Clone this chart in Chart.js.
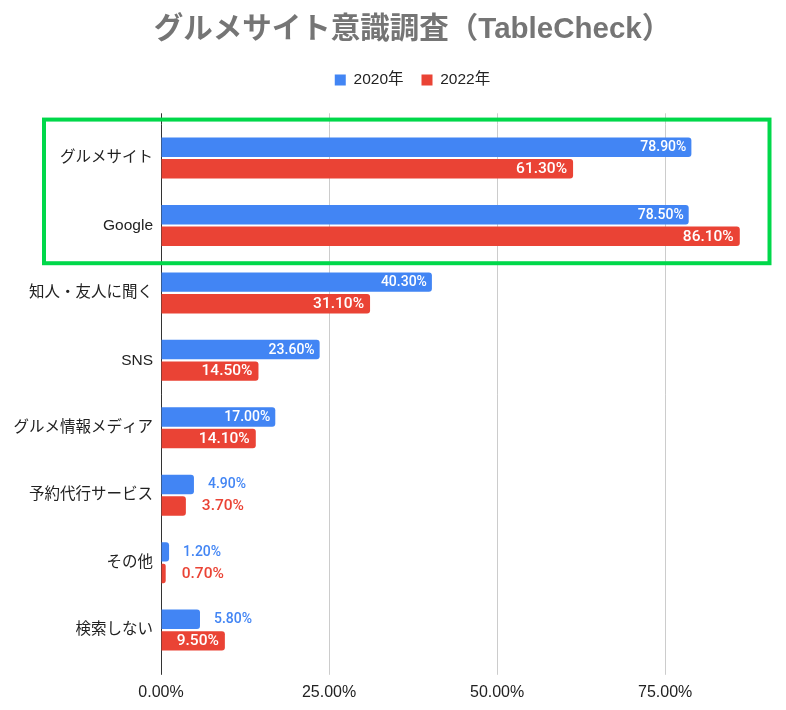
<!DOCTYPE html>
<html>
<head>
<meta charset="utf-8">
<script src="https://cdn.jsdelivr.net/npm/chart.js@4"></script>
<style>
html,body{margin:0;padding:0;background:#ffffff;}
#wrap{width:786px;height:710px;}
</style>
</head>
<body>
<div id="wrap"><canvas id="c" width="786" height="710"></canvas></div>
<script>
// ---- data ----
const categories = ['グルメサイト', 'Google', '知人・友人に聞く', 'SNS', 'グルメ情報メディア', '予約代行サービス', 'その他', '検索しない'];
const values2020 = [78.9, 78.5, 40.3, 23.6, 17.0, 4.9, 1.2, 5.8];
const values2022 = [61.3, 86.1, 31.1, 14.5, 14.1, 3.7, 0.7, 9.5];
const seriesNames = ['2020年', '2022年'];
const xTickValues = [0, 25, 50, 75];
const xMax = 90;
const highlightedCategories = [0, 1];
const titleText = 'グルメサイト意識調査（TableCheck）';

// ---- styles ----
const BLUE = '#4285F4';
const RED = '#EA4335';
const SANS = '"Liberation Sans", "Noto Sans CJK JP", sans-serif';
const LABEL_FONT = 'Roboto, "Noto Sans CJK JP", sans-serif';
const labelStyles = [
  {size: 14, weight: 500, color: BLUE, gapOut: 14, padIn: 5},
  {size: 15.5, weight: 500, color: RED, gapOut: 16, padIn: 6}
];

const gridExtend = 11;

const gridTopExtension = {
  id: 'gridTopExtension',
  beforeDatasetsDraw(chart) {
    const {ctx, chartArea} = chart;
    const xs = chart.scales.x;
    ctx.save();
    xs.ticks.forEach(t => {
      const px = Math.round(xs.getPixelForValue(t.value)) + 0.5;
      ctx.strokeStyle = t.value === 0 ? '#333333' : '#cccccc';
      ctx.lineWidth = 1;
      ctx.beginPath();
      ctx.moveTo(px, chartArea.top - gridExtend);
      ctx.lineTo(px, chartArea.top);
      ctx.stroke();
    });
    ctx.restore();
  }
};

const valueLabels = {
  id: 'valueLabels',
  afterDatasetsDraw(chart) {
    const {ctx} = chart;
    ctx.save();
    chart.data.datasets.forEach((ds, di) => {
      const meta = chart.getDatasetMeta(di);
      const st = labelStyles[di];
      ctx.font = st.weight + ' ' + st.size + 'px ' + LABEL_FONT;
      ctx.textBaseline = 'middle';
      meta.data.forEach((bar, i) => {
        const v = ds.data[i];
        const txt = v.toFixed(2) + '%';
        const w = ctx.measureText(txt).width;
        const barW = bar.x - bar.base;
        if (w + 2 * st.padIn + 2 < barW) {
          ctx.fillStyle = '#ffffff';
          ctx.textAlign = 'right';
          ctx.fillText(txt, bar.x - st.padIn, bar.y + 0.5);
        } else {
          ctx.fillStyle = st.color;
          ctx.textAlign = 'left';
          ctx.fillText(txt, bar.x + st.gapOut, bar.y + 0.5);
        }
      });
    });
    ctx.restore();
  }
};

const highlightBox = {
  id: 'highlightBox',
  afterDraw(chart) {
    const {ctx, chartArea} = chart;
    const ys = chart.scales.y;
    const first = highlightedCategories[0];
    const last = highlightedCategories[highlightedCategories.length - 1];
    const step = ys.getPixelForValue(1) - ys.getPixelForValue(0);
    const top = ys.getPixelForValue(first) - step * 0.57;
    const bottom = ys.getPixelForValue(last) + step * 0.56;
    const left = chartArea.left - 117;
    const right = chartArea.right + 3.5;
    ctx.save();
    ctx.strokeStyle = '#00D84A';
    ctx.lineWidth = 4;
    ctx.strokeRect(left, top, right - left, bottom - top);
    ctx.restore();
  }
};

new Chart(document.getElementById('c'), {
  type: 'bar',
  data: {
    labels: categories,
    datasets: [
      {label: seriesNames[0], data: values2020, xAxisID: 'x', yAxisID: 'y', backgroundColor: BLUE, borderRadius: 3, borderSkipped: 'start', categoryPercentage: 0.64, barPercentage: 0.9},
      {label: seriesNames[1], data: values2022, xAxisID: 'x', yAxisID: 'y', backgroundColor: RED, borderRadius: 3, borderSkipped: 'start', categoryPercentage: 0.64, barPercentage: 0.9}
    ]
  },
  options: {
    indexAxis: 'y',
    responsive: false,
    animation: false,
    devicePixelRatio: 1,
    layout: {padding: {left: 0, right: -39, top: 0, bottom: 0}},
    plugins: {
      title: {
        display: true,
        text: titleText,
        color: '#757575',
        font: {family: SANS, size: 29.5, weight: 'bold', lineHeight: 1.2},
        padding: {top: 12.5, bottom: 6.4}
      },
      legend: {
        display: true,
        position: 'top',
        labels: {
          boxWidth: 11, boxHeight: 11, padding: 18,
          color: '#222222',
          font: {family: SANS, size: 15.5}
        }
      },
      tooltip: {enabled: false}
    },
    scales: {
      y: {
        type: 'category',
        position: 'left',
        grid: {display: false, drawTicks: false},
        border: {display: false},
        afterFit(scale) { scale.width = 161; },
        ticks: {
          padding: 8,
          color: '#222222',
          font: {family: SANS, size: 15.5}
        }
      },
      x: {
        type: 'linear',
        position: 'bottom',
        min: 0,
        max: xMax,
        afterBuildTicks(scale) {
          scale.ticks = xTickValues.map(v => ({value: v}));
        },
        grid: {
          color: ctx => (ctx.tick && ctx.tick.value === 0) ? '#333333' : '#cccccc',
          drawTicks: true,
          tickLength: gridExtend
        },
        border: {display: false},
        ticks: {
          padding: 8,
          color: '#222222',
          font: {family: SANS, size: 16},
          callback: v => Number(v).toFixed(2) + '%'
        }
      },
      xSpacer: {
        type: 'linear',
        axis: 'x',
        position: 'top',
        display: true,
        grid: {display: false},
        border: {display: false},
        ticks: {display: false},
        afterFit(scale) { scale.height = 26.5; }
      },
      ySpacer: {
        type: 'linear',
        axis: 'y',
        position: 'right',
        display: true,
        grid: {display: false},
        border: {display: false},
        ticks: {display: false},
        afterFit(scale) { scale.width = 59; }
      }
    }
  },
  plugins: [gridTopExtension, valueLabels, highlightBox]
});
</script>
</body>
</html>
